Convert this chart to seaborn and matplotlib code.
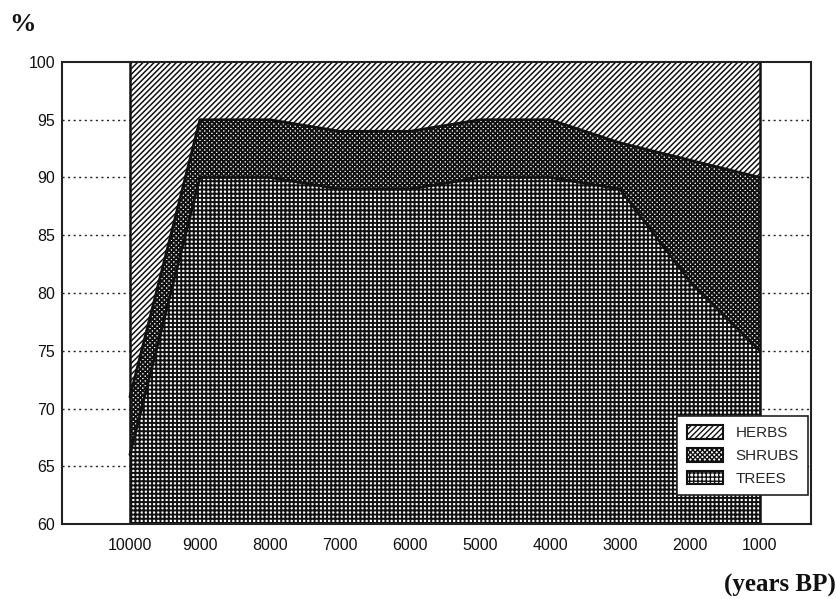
import matplotlib
matplotlib.use("Agg")
import matplotlib.pyplot as plt
import matplotlib.patches as mpatches
import seaborn as sns
import numpy as np
import pandas as pd

years = [10000, 9000, 8000, 7000, 6000, 5000, 4000, 3000, 2000, 1000]
trees = [66, 90, 90, 89, 89, 90, 90, 89, 81, 75]
shrubs = [5, 5, 5, 5, 5, 5, 5, 4, 10.5, 15]
herbs = [29, 5, 5, 6, 6, 5, 5, 7, 8.5, 10]
y_ticks = [60, 65, 70, 75, 80, 85, 90, 95, 100]
categories = ["HERBS", "SHRUBS", "TREES"]

sns.set_theme(style="white")
plt.rcParams['font.family'] = ['Liberation Sans', 'DejaVu Sans']
plt.rcParams['hatch.color'] = '#111111'

df = pd.DataFrame({"year": years, "trees": trees, "shrubs": shrubs, "herbs": herbs})
df["shrub_top"] = df["trees"] + df["shrubs"]
df["herb_top"] = df["shrub_top"] + df["herbs"]

fig = plt.figure(figsize=(8.37, 5.99), dpi=100)
ax = fig.add_axes([0.0741, 0.1252, 0.8949, 0.7713])

for yv in y_ticks[1:-1]:
    ax.axhline(yv, color='#222222', linestyle=(0, (1.5, 2.5)), linewidth=1.0, zorder=0)

hatch_herbs = '//////'
hatch_shrubs = 'xxxxxxx'
hatch_trees = '++++'
hlw = {'herbs': 1.1, 'shrubs': 1.4, 'trees': 1.4}

with plt.rc_context({'hatch.linewidth': hlw['trees']}):
    ax.fill_between(df["year"], 60, df["trees"], facecolor='white', edgecolor='#111111',
                    hatch=hatch_trees, linewidth=0, zorder=1)
with plt.rc_context({'hatch.linewidth': hlw['shrubs']}):
    ax.fill_between(df["year"], df["trees"], df["shrub_top"], facecolor='white', edgecolor='#111111',
                    hatch=hatch_shrubs, linewidth=0, zorder=1)
with plt.rc_context({'hatch.linewidth': hlw['herbs']}):
    ax.fill_between(df["year"], df["shrub_top"], 100, facecolor='white', edgecolor='#111111',
                    hatch=hatch_herbs, linewidth=0, zorder=1)

sns.lineplot(data=df, x="year", y="trees", color='#111111', linewidth=2.0, ax=ax, zorder=3)
sns.lineplot(data=df, x="year", y="shrub_top", color='#111111', linewidth=2.0, ax=ax, zorder=3)
ax.axvline(years[0], color='#111111', linewidth=1.8, zorder=3)
ax.axvline(years[-1], color='#111111', linewidth=1.8, zorder=3)

ax.set_xlim(10970, 270)
ax.set_ylim(60, 100)
ax.set_xticks(years)
ax.set_xticklabels([str(y) for y in years])
ax.set_yticks(y_ticks)
ax.set_yticklabels([str(y) for y in y_ticks])
ax.tick_params(axis='both', length=0, labelsize=11.5, colors='#111111')
ax.tick_params(axis='x', pad=10)
ax.tick_params(axis='y', pad=5)
ax.set_xlabel("")
ax.set_ylabel("")
for s in ax.spines.values():
    s.set_color('#222222')
    s.set_linewidth(1.5)
    s.set_zorder(4)

handles = []
for h, key in zip([hatch_herbs, hatch_shrubs, hatch_trees], ['herbs', 'shrubs', 'trees']):
    with plt.rc_context({'hatch.linewidth': hlw[key]}):
        handles.append(mpatches.Patch(facecolor='white', edgecolor='#111111', hatch=h, linewidth=1.5))
leg = ax.legend(handles, categories, loc='lower right', bbox_to_anchor=(0.996, 0.063),
                borderaxespad=0, fontsize=11, frameon=True, fancybox=False, framealpha=1,
                edgecolor='#222222', handlelength=2.4, handleheight=1.0,
                borderpad=0.6, labelspacing=0.5, handletextpad=0.8)
leg.get_frame().set_linewidth(1.2)
leg.set_zorder(5)

fig.text(0.011, 0.948, "%", fontsize=19, fontweight='bold',
         family=['Liberation Serif', 'DejaVu Serif'], color='#111111')
fig.text(0.999, 0.003, "(years BP)", fontsize=18, fontweight='bold', ha='right', va='bottom',
         family=['Liberation Serif', 'DejaVu Serif'], color='#111111')

fig.savefig("out.png", dpi=100)
